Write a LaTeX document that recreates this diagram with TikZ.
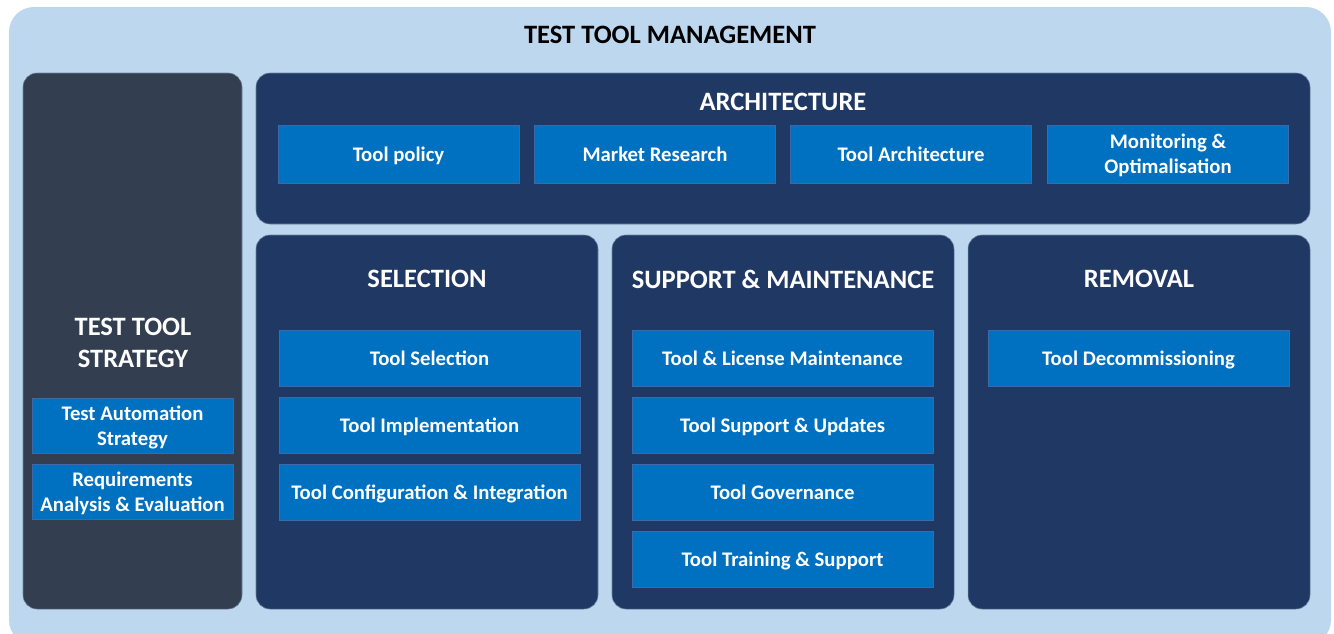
\documentclass[tikz,border=0pt]{standalone}
\usepackage{fontspec}
\setmainfont{Carlito}
\usepackage{tikz}
\usepackage{xcolor}
\usetikzlibrary{calc,positioning}
\definecolor{lightbg}{HTML}{BDD7EE}
\definecolor{stratbg}{HTML}{333F50}
\definecolor{panelbg}{HTML}{203864}
\definecolor{boxbg}{HTML}{0070C0}
\definecolor{boxline}{HTML}{3B6AA8}
\definecolor{panelline}{HTML}{6F82A0}

\begin{document}
\begin{tikzpicture}[x=0.02cm, y=-0.02cm,
panel/.style={fill=panelbg, draw=panelline, line width=0.3pt, rounded corners=0.28cm},
title/.style={text=white, font=\fontsize{15.1}{17.8}\selectfont\bfseries, align=center},
txt/.style={text=white, font=\fontsize{11.8}{14.2}\selectfont\bfseries, align=center, inner sep=0pt},
box/.style={txt, fill=boxbg, draw=boxline, line width=0.5pt},
one/.style={text height=8.3pt, text depth=0pt},
abox/.style={box, minimum width=4.82cm, minimum height=1.16cm},
sbox/.style={box, one, minimum width=6.02cm, minimum height=1.12cm},
tbox/.style={box, minimum width=4.02cm, minimum height=1.1cm}]
\useasboundingbox (0,0) rectangle (1334,633);
\clip (0,0) rectangle (1334,633);
\fill[lightbg, rounded corners=0.5cm] (9,7) rectangle (1331,645);
\node[font=\fontsize{15.1}{17.8}\selectfont\bfseries] (main) at (670,35) {TEST TOOL MANAGEMENT};
% panels
\draw[panel, fill=stratbg] (23,73) rectangle (242,609);
\draw[panel] (256,73) rectangle (1310,224);
\draw[panel] (256,235) rectangle (598,609);
\draw[panel] (612,235) rectangle (954,609);
\draw[panel] (968,235) rectangle (1310,609);
% strategy
\node[title] (strat) at (133,343) {TEST TOOL\\[0pt]STRATEGY};
\node[tbox] (t1) at (132.5,425.5) {};
\node[txt] (t1txt) at ($(t1)+(0,1.5)$) {Test Automation\\Strategy};
\node[tbox] (t2) at (132.5,492) {};
\node[txt] (t2txt) at ($(t2)+(0,1.5)$) {Requirements\\Analysis \& Evaluation};
% architecture
\node[title] (arch) at (783,102) {ARCHITECTURE};
\node[abox, one] (a1) at (398.5,154) {Tool policy};
\node[abox, one] (a2) at (655,154) {Market Research};
\node[abox, one] (a3) at (911,154) {Tool Architecture};
\node[abox] (a4) at (1168,154) {};
\node[txt] (a4txt) at ($(a4)+(0,1.5)$) {Monitoring \&\\Optimalisation};
% selection
\node[title] (sel) at (427,279) {SELECTION};
\node[sbox] (s1) at (429.5,358) {Tool Selection};
\node[sbox] (s2) at (429.5,425) {Tool Implementation};
\node[sbox] (s3) at (429.5,492) {Tool Configuration \& Integration};
% support & maintenance
\node[title] (sup) at (783,279) {SUPPORT \& MAINTENANCE};
\node[sbox] (m1) at (782.5,358) {Tool \& License Maintenance};
\node[sbox] (m2) at (782.5,425) {Tool Support \& Updates};
\node[sbox] (m3) at (782.5,492) {Tool Governance};
\node[sbox] (m4) at (782.5,559) {Tool Training \& Support};
% removal
\node[title] (rem) at (1139,279) {REMOVAL};
\node[sbox] (r1) at (1138.5,358) {Tool Decommissioning};
\end{tikzpicture}
\end{document}
